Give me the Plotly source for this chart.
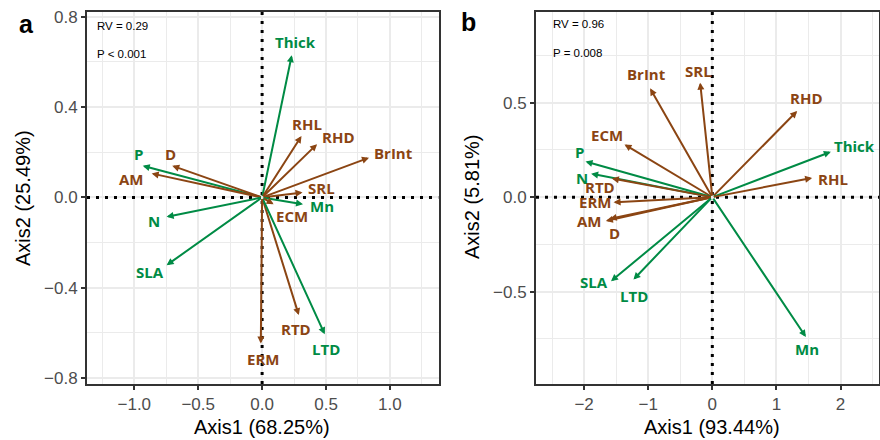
import plotly.graph_objects as go

# ---------------- data ----------------
a_traits = ["Thick", "RHL", "RHD", "BrInt", "SRL", "Mn", "ECM", "P", "D", "AM", "N", "SLA", "RTD", "LTD", "ERM"]
a_x = [0.232, 0.308, 0.430, 0.836, 0.316, 0.320, 0.090, -0.934, -0.703, -0.864, -0.747, -0.747, 0.287, 0.490, -0.010]
a_y = [0.630, 0.272, 0.236, 0.176, 0.022, -0.030, -0.030, 0.140, 0.140, 0.106, -0.086, -0.300, -0.521, -0.606, -0.647]
a_group = ["leaf", "root", "root", "root", "root", "leaf", "root", "leaf", "root", "root", "leaf", "leaf", "root", "leaf", "root"]

b_traits = ["BrInt", "SRL", "RHD", "Thick", "RHL", "ECM", "P", "N", "RTD", "ERM", "AM", "D", "SLA", "LTD", "Mn"]
b_x = [-0.970, -0.190, 1.324, 1.849, 1.557, -1.370, -1.978, -1.890, -1.567, -1.540, -1.660, -1.600, -1.580, -1.230, 1.460]
b_y = [0.576, 0.606, 0.456, 0.240, 0.102, 0.279, 0.189, 0.124, 0.099, -0.027, -0.126, -0.115, -0.445, -0.436, -0.740]
b_group = ["root", "root", "root", "leaf", "root", "root", "leaf", "leaf", "root", "root", "root", "root", "leaf", "leaf", "leaf"]

a_stats = ["RV = 0.29", "P < 0.001"]
b_stats = ["RV = 0.96", "P = 0.008"]
a_xtitle, a_ytitle = "Axis1 (68.25%)", "Axis2 (25.49%)"
b_xtitle, b_ytitle = "Axis1 (93.44%)", "Axis2 (5.81%)"

# ---------------- style ----------------
COL = {"leaf": "#008B45", "root": "#8B4513"}
W, H = 880, 440
# label offsets in pixels (dx right, dy down)
a_off = {"Thick": (4, -13), "RHL": (6, -12), "RHD": (21, -7), "BrInt": (25, -5), "SRL": (19, -4),
         "Mn": (19, 2), "ECM": (18, 12), "P": (-4, -12), "D": (-2, -12), "AM": (-20, 6),
         "N": (-13, 4), "SLA": (-17, 7), "RTD": (-3, 14), "LTD": (1, 15), "ERM": (2, 15)}
b_off = {"BrInt": (-4, -14), "SRL": (-2, -12), "RHD": (9, -13), "Thick": (24, -6), "RHL": (21, 1),
         "ECM": (-17, -9), "P": (-6, -9), "N": (-9, 4), "RTD": (-12, 9), "ERM": (-19, 0),
         "AM": (-16, 0), "D": (5, 14), "SLA": (-17, 1), "LTD": (1, 16), "Mn": (1, 12)}

a_xr, a_yr = [-1.37, 1.38], [-0.826, 0.821]
b_xr, b_yr = [-2.75, 2.60], [-0.989, 0.98]

def px(xp, yp):
    return xp / W, 1 - yp / H

fig = go.Figure()

DOT = dict(color="black", width=3, dash="3px,6px")
# dotted zero reference lines (spanning each panel's axis range)
for xr, yr, xa, ya in [(a_xr, a_yr, "x", "y"), (b_xr, b_yr, "x2", "y2")]:
    fig.add_trace(go.Scatter(x=xr, y=[0, 0], mode="lines", line=DOT, hoverinfo="skip",
                             showlegend=False, xaxis=xa, yaxis=ya))
    fig.add_trace(go.Scatter(x=[0, 0], y=yr, mode="lines", line=DOT, hoverinfo="skip",
                             showlegend=False, xaxis=xa, yaxis=ya))

annotations = []

LABEL_FONT = "Open Sans"
TICK_FONT = dict(family="Liberation Sans", size=17, color="#4D4D4D")

def add_panel(traits, xs, ys, groups, offs, xr, yr):
    for t, x, y, g in zip(traits, xs, ys, groups):
        annotations.append(dict(x=x, y=y, ax=0, ay=0, xref=xr, yref=yr, axref=xr, ayref=yr,
                                text="", showarrow=True, arrowhead=2, arrowsize=0.7,
                                arrowwidth=2, arrowcolor=COL[g], standoff=0, startstandoff=0))
    for t, x, y, g in zip(traits, xs, ys, groups):
        dx, dy = offs[t]
        annotations.append(dict(x=x, y=y, xref=xr, yref=yr, text="<b>" + t + "</b>", showarrow=False,
                                xshift=dx, yshift=-dy, xanchor="center", yanchor="middle",
                                font=dict(family=LABEL_FONT, size=15, color=COL[g])))

add_panel(a_traits, a_x, a_y, a_group, a_off, "x", "y")
add_panel(b_traits, b_x, b_y, b_group, b_off, "x2", "y2")

def text_ann(txt, xp, yp, size, bold=False, angle=0, xanchor="center", color="#000000", family="Liberation Sans"):
    xx, yy = px(xp, yp)
    annotations.append(dict(x=xx, y=yy, xref="paper", yref="paper", showarrow=False,
                            text=("<b>%s</b>" % txt) if bold else txt, textangle=angle,
                            xanchor=xanchor, yanchor="middle",
                            font=dict(family=family, size=size, color=color)))

# stats text
text_ann(a_stats[0], 95, 26, 11.5, xanchor="left")
text_ann(a_stats[1], 95, 54, 11.5, xanchor="left")
text_ann(b_stats[0], 551, 24, 11.5, xanchor="left")
text_ann(b_stats[1], 551, 53, 11.5, xanchor="left")
# panel letters
text_ann("a", 26, 24, 25, bold=True)
text_ann("b", 468, 22, 25, bold=True)
# axis titles
text_ann(a_xtitle, 262, 427, 20)
text_ann(b_xtitle, 712, 427, 20)
text_ann(a_ytitle, 23, 198, 20, angle=-90)
text_ann(b_ytitle, 472, 197, 20, angle=-90)

def axis(domain, rng, tickvals, fmt, minor_dtick, anchor):
    return dict(domain=domain, range=rng, anchor=anchor, tickmode="array", tickvals=tickvals,
                tickformat=fmt, tickfont=TICK_FONT, ticks="outside", ticklen=4, tickwidth=1.5,
                tickcolor="#333333", showline=True, mirror=True, linecolor="#333333", linewidth=2,
                showgrid=True, gridcolor="#EBEBEB", gridwidth=1.8, zeroline=False,
                minor=dict(tickmode="linear", tick0=0, dtick=minor_dtick, showgrid=True,
                           gridcolor="#EBEBEB", gridwidth=1, ticks=""),
                automargin=False, fixedrange=True)

yd = [1 - 384 / H, 1 - 12 / H]
fig.update_layout(
    width=W, height=H, margin=dict(l=0, r=0, t=0, b=0),
    paper_bgcolor="white", plot_bgcolor="white", showlegend=False,
    xaxis=axis([87 / W, 438.5 / W], a_xr, [-1.0, -0.5, 0.0, 0.5, 1.0], ".1f", 0.25, "y"),
    yaxis=axis(yd, a_yr, [-0.8, -0.4, 0.0, 0.4, 0.8], ".1f", 0.2, "x"),
    xaxis2=axis([536 / W, 879 / W], b_xr, [-2, -1, 0, 1, 2], "d", 0.5, "y2"),
    yaxis2=axis(yd, b_yr, [-0.5, 0.0, 0.5], ".1f", 0.25, "x2"),
    annotations=annotations,
)

fig.write_html("out.html")
